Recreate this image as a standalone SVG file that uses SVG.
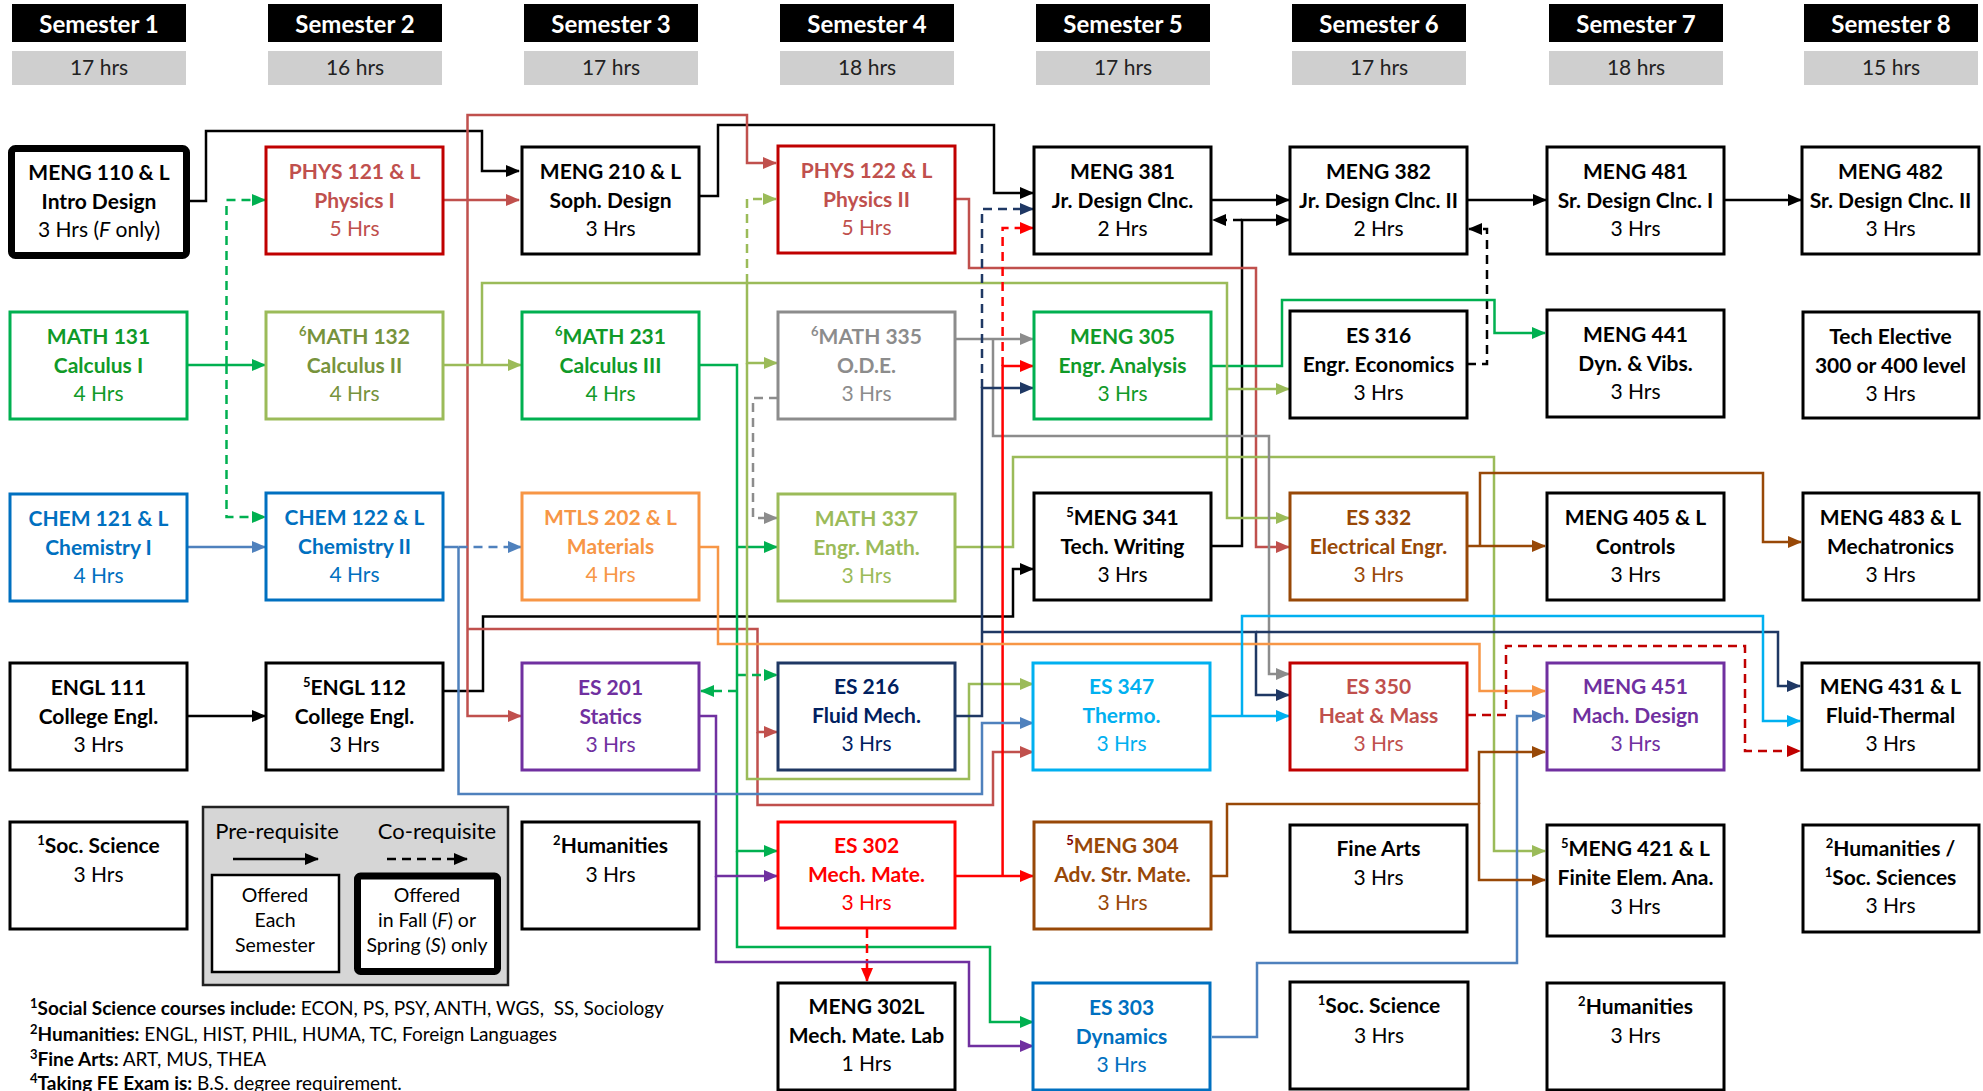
<svg xmlns="http://www.w3.org/2000/svg" width="1983" height="1091" viewBox="0 0 1983 1091">
<style>
text{font-family:Lato,"Open Sans","Liberation Sans",sans-serif;font-size:21px;text-anchor:middle}
.b{font-weight:700}
.hd{fill:#fff;font-weight:700;font-size:24px}
.hr{fill:#222;font-size:21px}
.box{fill:#fff;stroke-width:3}
.c{fill:none;stroke-width:2.5}
.d{stroke-dasharray:9 6}
.fn{text-anchor:start;font-size:19px}
.sup{font-size:13px}
</style>
<defs>
<marker id="mk" markerUnits="userSpaceOnUse" markerWidth="14" markerHeight="12" refX="13" refY="6" orient="auto"><path d="M0,0L14,6L0,12z" fill="#000"/></marker>
<marker id="mr1" markerUnits="userSpaceOnUse" markerWidth="14" markerHeight="12" refX="13" refY="6" orient="auto"><path d="M0,0L14,6L0,12z" fill="#C0504D"/></marker>
<marker id="mg" markerUnits="userSpaceOnUse" markerWidth="14" markerHeight="12" refX="13" refY="6" orient="auto"><path d="M0,0L14,6L0,12z" fill="#00B050"/></marker>
<marker id="mo" markerUnits="userSpaceOnUse" markerWidth="14" markerHeight="12" refX="13" refY="6" orient="auto"><path d="M0,0L14,6L0,12z" fill="#9BBB59"/></marker>
<marker id="mgy" markerUnits="userSpaceOnUse" markerWidth="14" markerHeight="12" refX="13" refY="6" orient="auto"><path d="M0,0L14,6L0,12z" fill="#8C8C8C"/></marker>
<marker id="mn" markerUnits="userSpaceOnUse" markerWidth="14" markerHeight="12" refX="13" refY="6" orient="auto"><path d="M0,0L14,6L0,12z" fill="#1F3864"/></marker>
<marker id="mrr" markerUnits="userSpaceOnUse" markerWidth="14" markerHeight="12" refX="13" refY="6" orient="auto"><path d="M0,0L14,6L0,12z" fill="#FF0000"/></marker>
<marker id="mp" markerUnits="userSpaceOnUse" markerWidth="14" markerHeight="12" refX="13" refY="6" orient="auto"><path d="M0,0L14,6L0,12z" fill="#7030A0"/></marker>
<marker id="mbl" markerUnits="userSpaceOnUse" markerWidth="14" markerHeight="12" refX="13" refY="6" orient="auto"><path d="M0,0L14,6L0,12z" fill="#4F81BD"/></marker>
<marker id="mor" markerUnits="userSpaceOnUse" markerWidth="14" markerHeight="12" refX="13" refY="6" orient="auto"><path d="M0,0L14,6L0,12z" fill="#F79646"/></marker>
<marker id="mbr" markerUnits="userSpaceOnUse" markerWidth="14" markerHeight="12" refX="13" refY="6" orient="auto"><path d="M0,0L14,6L0,12z" fill="#984807"/></marker>
<marker id="mcy" markerUnits="userSpaceOnUse" markerWidth="14" markerHeight="12" refX="13" refY="6" orient="auto"><path d="M0,0L14,6L0,12z" fill="#00B0F0"/></marker>
<marker id="mdr" markerUnits="userSpaceOnUse" markerWidth="14" markerHeight="12" refX="13" refY="6" orient="auto"><path d="M0,0L14,6L0,12z" fill="#C00000"/></marker>
</defs>
<rect width="1983" height="1091" fill="#fff"/>

<g id="headers">
<rect x="12" y="4" width="174" height="38" fill="#000"/><rect x="12" y="51" width="174" height="34" fill="#CFCFCF"/>
<text class="hd" x="99" y="33">Semester 1</text><text class="hr" x="99" y="75">17 hrs</text>
<rect x="268" y="4" width="174" height="38" fill="#000"/><rect x="268" y="51" width="174" height="34" fill="#CFCFCF"/>
<text class="hd" x="355" y="33">Semester 2</text><text class="hr" x="355" y="75">16 hrs</text>
<rect x="524" y="4" width="174" height="38" fill="#000"/><rect x="524" y="51" width="174" height="34" fill="#CFCFCF"/>
<text class="hd" x="611" y="33">Semester 3</text><text class="hr" x="611" y="75">17 hrs</text>
<rect x="780" y="4" width="174" height="38" fill="#000"/><rect x="780" y="51" width="174" height="34" fill="#CFCFCF"/>
<text class="hd" x="867" y="33">Semester 4</text><text class="hr" x="867" y="75">18 hrs</text>
<rect x="1036" y="4" width="174" height="38" fill="#000"/><rect x="1036" y="51" width="174" height="34" fill="#CFCFCF"/>
<text class="hd" x="1123" y="33">Semester 5</text><text class="hr" x="1123" y="75">17 hrs</text>
<rect x="1292" y="4" width="174" height="38" fill="#000"/><rect x="1292" y="51" width="174" height="34" fill="#CFCFCF"/>
<text class="hd" x="1379" y="33">Semester 6</text><text class="hr" x="1379" y="75">17 hrs</text>
<rect x="1549" y="4" width="174" height="38" fill="#000"/><rect x="1549" y="51" width="174" height="34" fill="#CFCFCF"/>
<text class="hd" x="1636" y="33">Semester 7</text><text class="hr" x="1636" y="75">18 hrs</text>
<rect x="1804" y="4" width="174" height="38" fill="#000"/><rect x="1804" y="51" width="174" height="34" fill="#CFCFCF"/>
<text class="hd" x="1891" y="33">Semester 8</text><text class="hr" x="1891" y="75">15 hrs</text>
</g>

<g id="connectors">
<!-- black -->
<path class="c" stroke="#000" d="M190,201H206V131H482V171H519" marker-end="url(#mk)"/>
<path class="c" stroke="#000" d="M699,196H718V125H994V193H1033" marker-end="url(#mk)"/>
<path class="c" stroke="#000" d="M1211,200H1289" marker-end="url(#mk)"/>
<path class="c" stroke="#000" d="M1467,200H1546" marker-end="url(#mk)"/>
<path class="c" stroke="#000" d="M1724,200H1801" marker-end="url(#mk)"/>
<path class="c" stroke="#000" d="M187,716H265" marker-end="url(#mk)"/>
<path class="c" stroke="#000" d="M443,691H483V616.5H1013V569H1033" marker-end="url(#mk)"/>
<path class="c" stroke="#000" d="M1211,546H1242V220H1289" marker-end="url(#mk)"/>
<path class="c d" stroke="#000" d="M1242,220H1213" marker-end="url(#mk)"/>
<path class="c d" stroke="#000" d="M1467,364H1487V229H1469" marker-end="url(#mk)"/>
<!-- PHYS red -->
<path class="c" stroke="#C0504D" d="M443,200H519" marker-end="url(#mr1)"/>
<path class="c" stroke="#C0504D" d="M467.5,200V115H747V163H776" marker-end="url(#mr1)"/>
<path class="c" stroke="#C0504D" d="M467.5,200V716H521" marker-end="url(#mr1)"/>
<path class="c" stroke="#C0504D" d="M467.5,629H757.5V732H777" marker-end="url(#mr1)"/>
<path class="c" stroke="#C0504D" d="M757.5,732V805H993V752H1033" marker-end="url(#mr1)"/>
<path class="c" stroke="#C0504D" d="M954,199H969V268H1256V547H1289" marker-end="url(#mr1)"/>
<!-- green -->
<path class="c" stroke="#00B050" d="M187,365H265" marker-end="url(#mg)"/>
<path class="c d" stroke="#00B050" d="M226.5,365V200H265" marker-end="url(#mg)"/>
<path class="c d" stroke="#00B050" d="M226.5,365V517H265" marker-end="url(#mg)"/>
<path class="c" stroke="#00B050" d="M699,365H737V851H777" marker-end="url(#mg)"/>
<path class="c" stroke="#00B050" d="M737,547H777" marker-end="url(#mg)"/>
<path class="c" stroke="#00B050" d="M737,851V947H990V1022H1033" marker-end="url(#mg)"/>
<path class="c d" stroke="#00B050" d="M737,675H777" marker-end="url(#mg)"/>
<path class="c d" stroke="#00B050" d="M737,691H701" marker-end="url(#mg)"/>
<path class="c" stroke="#00B050" d="M1212,366H1282V300H1494.5V333H1545" marker-end="url(#mg)"/>
<!-- olive -->
<path class="c" stroke="#9BBB59" d="M443,365H521" marker-end="url(#mo)"/>
<path class="c" stroke="#9BBB59" d="M482,365V283H1227V518H1289" marker-end="url(#mo)"/>
<path class="c" stroke="#9BBB59" d="M1227,389H1289" marker-end="url(#mo)"/>
<path class="c" stroke="#9BBB59" d="M747,283V363H777" marker-end="url(#mo)"/>
<path class="c" stroke="#9BBB59" d="M747,363V779H969V684H1033" marker-end="url(#mo)"/>
<path class="c d" stroke="#9BBB59" d="M747,283V199H776" marker-end="url(#mo)"/>
<path class="c" stroke="#9BBB59" d="M955,547H1013V457H1494V851H1545" marker-end="url(#mo)"/>
<!-- gray -->
<path class="c" stroke="#8C8C8C" d="M956,339H1033" marker-end="url(#mgy)"/>
<path class="c" stroke="#8C8C8C" d="M993,339V436H1269V674H1289" marker-end="url(#mgy)"/>
<path class="c d" stroke="#8C8C8C" d="M778,398H753V518H777" marker-end="url(#mgy)"/>
<!-- navy -->
<path class="c" stroke="#1F3864" d="M955,716H982V388H1033" marker-end="url(#mn)"/>
<path class="c d" stroke="#1F3864" d="M982,388V209H1033" marker-end="url(#mn)"/>
<path class="c" stroke="#1F3864" d="M982,632H1256V695H1289" marker-end="url(#mn)"/>
<path class="c" stroke="#1F3864" d="M1256,632H1778V686H1800" marker-end="url(#mn)"/>
<!-- bright red -->
<path class="c" stroke="#FF0000" d="M956,876H1033" marker-end="url(#mrr)"/>
<path class="c" stroke="#FF0000" d="M1002.6,876V366H1033" marker-end="url(#mrr)"/>
<path class="c d" stroke="#FF0000" d="M1002.6,366V228H1033" marker-end="url(#mrr)"/>
<path class="c d" stroke="#FF0000" d="M867,929V981" marker-end="url(#mrr)"/>
<!-- purple -->
<path class="c" stroke="#7030A0" d="M699,716H716V876H777" marker-end="url(#mp)"/>
<path class="c" stroke="#7030A0" d="M716,876V962H969V1046H1033" marker-end="url(#mp)"/>
<!-- blue -->
<path class="c" stroke="#4F81BD" d="M187,547H265" marker-end="url(#mbl)"/>
<path class="c" stroke="#4F81BD" d="M443,547H458.5"/>
<path class="c d" stroke="#4F81BD" d="M458.5,547H521" marker-end="url(#mbl)"/>
<path class="c" stroke="#4F81BD" d="M458.5,547V794H982V723H1033" marker-end="url(#mbl)"/>
<path class="c" stroke="#4F81BD" d="M1212,1037H1257V963H1517V716H1545" marker-end="url(#mbl)"/>
<!-- orange -->
<path class="c" stroke="#F79646" d="M699,547H718V644H1479.5V691H1545" marker-end="url(#mor)"/>
<!-- brown -->
<path class="c" stroke="#984807" d="M1467,546H1545" marker-end="url(#mbr)"/>
<path class="c" stroke="#984807" d="M1480,546V473H1763V542H1801" marker-end="url(#mbr)"/>
<path class="c" stroke="#984807" d="M1212,876H1227V804H1479V880H1545" marker-end="url(#mbr)"/>
<path class="c" stroke="#984807" d="M1479,804V752H1545" marker-end="url(#mbr)"/>
<!-- cyan -->
<path class="c" stroke="#00B0F0" d="M1211,716H1289" marker-end="url(#mcy)"/>
<path class="c" stroke="#00B0F0" d="M1242,716V616H1763V721H1800" marker-end="url(#mcy)"/>
<!-- dark red dashed -->
<path class="c d" stroke="#C00000" d="M1467,715H1506V646H1745V751H1800" marker-end="url(#mdr)"/>
</g>

<!-- Row 1 -->
<g id="meng110"><rect x="11.5" y="148.5" width="175" height="107" rx="4" fill="#fff" stroke="#000" stroke-width="7"/>
<text class="b" x="99" y="180">MENG 110 &amp; L</text><text class="b" x="99" y="209">Intro Design</text><text x="99" y="237">3 Hrs (<tspan font-style="italic">F</tspan> only)</text></g>
<g id="phys121" fill="#C0504D"><rect class="box" x="266" y="147" width="177" height="107" stroke="#C00000"/>
<text class="b" x="354.5" y="179">PHYS 121 &amp; L</text><text class="b" x="354.5" y="208">Physics I</text><text x="354.5" y="236">5 Hrs</text></g>
<g id="meng210"><rect class="box" x="522" y="147" width="177" height="107" stroke="#000"/>
<text class="b" x="610.5" y="179">MENG 210 &amp; L</text><text class="b" x="610.5" y="208">Soph. Design</text><text x="610.5" y="236">3 Hrs</text></g>
<g id="phys122" fill="#C0504D"><rect class="box" x="778" y="146" width="177" height="107" stroke="#C00000"/>
<text class="b" x="866.5" y="178">PHYS 122 &amp; L</text><text class="b" x="866.5" y="207">Physics II</text><text x="866.5" y="235">5 Hrs</text></g>
<g id="meng381"><rect class="box" x="1034" y="147" width="177" height="107" stroke="#000"/>
<text class="b" x="1122.5" y="179">MENG 381</text><text class="b" x="1122.5" y="208">Jr. Design Clnc.</text><text x="1122.5" y="236">2 Hrs</text></g>
<g id="meng382"><rect class="box" x="1290" y="147" width="177" height="107" stroke="#000"/>
<text class="b" x="1378.5" y="179">MENG 382</text><text class="b" x="1378.5" y="208">Jr. Design Clnc. II</text><text x="1378.5" y="236">2 Hrs</text></g>
<g id="meng481"><rect class="box" x="1547" y="147" width="177" height="107" stroke="#000"/>
<text class="b" x="1635.5" y="179">MENG 481</text><text class="b" x="1635.5" y="208">Sr. Design Clnc. I</text><text x="1635.5" y="236">3 Hrs</text></g>
<g id="meng482"><rect class="box" x="1802" y="147" width="177" height="107" stroke="#000"/>
<text class="b" x="1890.5" y="179">MENG 482</text><text class="b" x="1890.5" y="208">Sr. Design Clnc. II</text><text x="1890.5" y="236">3 Hrs</text></g>

<!-- Row 2 -->
<g id="math131" fill="#109A28"><rect class="box" x="10" y="312" width="177" height="107" stroke="#00B050"/>
<text class="b" x="98.5" y="344">MATH 131</text><text class="b" x="98.5" y="373">Calculus I</text><text x="98.5" y="401">4 Hrs</text></g>
<g id="math132" fill="#77933C"><rect class="box" x="266" y="312" width="177" height="107" stroke="#9BBB59"/>
<text class="b" x="354.5" y="344"><tspan class="sup" dy="-8">6</tspan><tspan dy="8">MATH 132</tspan></text><text class="b" x="354.5" y="373">Calculus II</text><text x="354.5" y="401">4 Hrs</text></g>
<g id="math231" fill="#109A28"><rect class="box" x="522" y="312" width="177" height="107" stroke="#00B050"/>
<text class="b" x="610.5" y="344"><tspan class="sup" dy="-8">6</tspan><tspan dy="8">MATH 231</tspan></text><text class="b" x="610.5" y="373">Calculus III</text><text x="610.5" y="401">4 Hrs</text></g>
<g id="math335" fill="#8C8C8C"><rect class="box" x="778" y="312" width="177" height="107" stroke="#8C8C8C"/>
<text class="b" x="866.5" y="344"><tspan class="sup" dy="-8">6</tspan><tspan dy="8">MATH 335</tspan></text><text class="b" x="866.5" y="373">O.D.E.</text><text x="866.5" y="401">3 Hrs</text></g>
<g id="meng305" fill="#109A28"><rect class="box" x="1034" y="312" width="177" height="107" stroke="#00B050"/>
<text class="b" x="1122.5" y="344">MENG 305</text><text class="b" x="1122.5" y="373">Engr. Analysis</text><text x="1122.5" y="401">3 Hrs</text></g>
<g id="es316"><rect class="box" x="1290" y="311" width="177" height="107" stroke="#000"/>
<text class="b" x="1378.5" y="343">ES 316</text><text class="b" x="1378.5" y="372">Engr. Economics</text><text x="1378.5" y="400">3 Hrs</text></g>
<g id="meng441"><rect class="box" x="1547" y="310" width="177" height="107" stroke="#000"/>
<text class="b" x="1635.5" y="342">MENG 441</text><text class="b" x="1635.5" y="371">Dyn. &amp; Vibs.</text><text x="1635.5" y="399">3 Hrs</text></g>
<g id="techelective"><rect class="box" x="1803" y="312" width="176" height="106" stroke="#000"/>
<text class="b" x="1890.5" y="344">Tech Elective</text><text class="b" x="1890.5" y="373">300 or 400 level</text><text x="1890.5" y="401">3 Hrs</text></g>

<!-- Row 3 -->
<g id="chem121" fill="#0070C0"><rect class="box" x="10" y="494" width="177" height="107" stroke="#0070C0"/>
<text class="b" x="98.5" y="526">CHEM 121 &amp; L</text><text class="b" x="98.5" y="555">Chemistry I</text><text x="98.5" y="583">4 Hrs</text></g>
<g id="chem122" fill="#0070C0"><rect class="box" x="266" y="493" width="177" height="107" stroke="#0070C0"/>
<text class="b" x="354.5" y="525">CHEM 122 &amp; L</text><text class="b" x="354.5" y="554">Chemistry II</text><text x="354.5" y="582">4 Hrs</text></g>
<g id="mtls202" fill="#F79646"><rect class="box" x="522" y="493" width="177" height="107" stroke="#F79646"/>
<text class="b" x="610.5" y="525">MTLS 202 &amp; L</text><text class="b" x="610.5" y="554">Materials</text><text x="610.5" y="582">4 Hrs</text></g>
<g id="math337" fill="#9BBB59"><rect class="box" x="778" y="494" width="177" height="107" stroke="#9BBB59"/>
<text class="b" x="866.5" y="526">MATH 337</text><text class="b" x="866.5" y="555">Engr. Math.</text><text x="866.5" y="583">3 Hrs</text></g>
<g id="meng341"><rect class="box" x="1034" y="493" width="177" height="107" stroke="#000"/>
<text class="b" x="1122.5" y="525"><tspan class="sup" dy="-8">5</tspan><tspan dy="8">MENG 341</tspan></text><text class="b" x="1122.5" y="554">Tech. Writing</text><text x="1122.5" y="582">3 Hrs</text></g>
<g id="es332" fill="#984807"><rect class="box" x="1290" y="493" width="177" height="107" stroke="#984807"/>
<text class="b" x="1378.5" y="525">ES 332</text><text class="b" x="1378.5" y="554">Electrical Engr.</text><text x="1378.5" y="582">3 Hrs</text></g>
<g id="meng405"><rect class="box" x="1547" y="493" width="177" height="107" stroke="#000"/>
<text class="b" x="1635.5" y="525">MENG 405 &amp; L</text><text class="b" x="1635.5" y="554">Controls</text><text x="1635.5" y="582">3 Hrs</text></g>
<g id="meng483"><rect class="box" x="1803" y="493" width="176" height="107" stroke="#000"/>
<text class="b" x="1890.5" y="525">MENG 483 &amp; L</text><text class="b" x="1890.5" y="554">Mechatronics</text><text x="1890.5" y="582">3 Hrs</text></g>

<!-- Row 4 -->
<g id="engl111"><rect class="box" x="10" y="663" width="177" height="107" stroke="#000"/>
<text class="b" x="98.5" y="695">ENGL 111</text><text class="b" x="98.5" y="724">College Engl.</text><text x="98.5" y="752">3 Hrs</text></g>
<g id="engl112"><rect class="box" x="266" y="663" width="177" height="107" stroke="#000"/>
<text class="b" x="354.5" y="695"><tspan class="sup" dy="-8">5</tspan><tspan dy="8">ENGL 112</tspan></text><text class="b" x="354.5" y="724">College Engl.</text><text x="354.5" y="752">3 Hrs</text></g>
<g id="es201" fill="#7030A0"><rect class="box" x="522" y="663" width="177" height="107" stroke="#7030A0"/>
<text class="b" x="610.5" y="695">ES 201</text><text class="b" x="610.5" y="724">Statics</text><text x="610.5" y="752">3 Hrs</text></g>
<g id="es216" fill="#002060"><rect class="box" x="778" y="663" width="177" height="107" stroke="#1F3864"/>
<text class="b" x="866.5" y="694">ES 216</text><text class="b" x="866.5" y="723">Fluid Mech.</text><text x="866.5" y="751">3 Hrs</text></g>
<g id="es347" fill="#00B0F0"><rect class="box" x="1033" y="663" width="177" height="107" stroke="#00B0F0"/>
<text class="b" x="1121.5" y="694">ES 347</text><text class="b" x="1121.5" y="723">Thermo.</text><text x="1121.5" y="751">3 Hrs</text></g>
<g id="es350" fill="#C0504D"><rect class="box" x="1290" y="663" width="177" height="107" stroke="#C00000"/>
<text class="b" x="1378.5" y="694">ES 350</text><text class="b" x="1378.5" y="723">Heat &amp; Mass</text><text x="1378.5" y="751">3 Hrs</text></g>
<g id="meng451" fill="#7030A0"><rect class="box" x="1547" y="663" width="177" height="107" stroke="#7030A0"/>
<text class="b" x="1635.5" y="694">MENG 451</text><text class="b" x="1635.5" y="723">Mach. Design</text><text x="1635.5" y="751">3 Hrs</text></g>
<g id="meng431"><rect class="box" x="1802" y="663" width="177" height="107" stroke="#000"/>
<text class="b" x="1890.5" y="694">MENG 431 &amp; L</text><text class="b" x="1890.5" y="723">Fluid-Thermal</text><text x="1890.5" y="751">3 Hrs</text></g>

<!-- Row 5 -->
<g id="socsci1"><rect class="box" x="10" y="822" width="177" height="107" stroke="#000"/>
<text class="b" x="98.5" y="853"><tspan class="sup" dy="-8">1</tspan><tspan dy="8">Soc. Science</tspan></text><text x="98.5" y="882">3 Hrs</text></g>
<g id="legend">
<rect x="203" y="807" width="305" height="178" fill="#D6D6D6" stroke="#222" stroke-width="2.5"/>
<text x="277" y="839" style="font-size:22px">Pre-requisite</text>
<text x="437" y="839" style="font-size:22px">Co-requisite</text>
<path class="c" stroke="#000" d="M233,859H318" marker-end="url(#mk)"/>
<path class="c d" stroke="#000" d="M387,859H467" marker-end="url(#mk)"/>
<rect x="212" y="875" width="127" height="97" fill="#fff" stroke="#000" stroke-width="2.5"/>
<text x="275" y="902" style="font-size:19.5px">Offered</text><text x="275" y="927" style="font-size:19.5px">Each</text><text x="275" y="952" style="font-size:19.5px">Semester</text>
<rect x="357.5" y="876" width="140" height="95.5" rx="3" fill="#fff" stroke="#000" stroke-width="7"/>
<text x="427" y="902" style="font-size:19.5px">Offered</text><text x="427" y="927" style="font-size:19.5px">in Fall (<tspan font-style="italic">F</tspan>) or</text><text x="427" y="952" style="font-size:19.5px">Spring (<tspan font-style="italic">S</tspan>) only</text>
</g>
<g id="humanities1"><rect class="box" x="522" y="822" width="177" height="107" stroke="#000"/>
<text class="b" x="610.5" y="853"><tspan class="sup" dy="-8">2</tspan><tspan dy="8">Humanities</tspan></text><text x="610.5" y="882">3 Hrs</text></g>
<g id="es302" fill="#FF0000"><rect class="box" x="778" y="822" width="177" height="106" stroke="#FF0000"/>
<text class="b" x="866.5" y="853">ES 302</text><text class="b" x="866.5" y="882">Mech. Mate.</text><text x="866.5" y="910">3 Hrs</text></g>
<g id="meng304" fill="#984807"><rect class="box" x="1034" y="822" width="177" height="107" stroke="#984807"/>
<text class="b" x="1122.5" y="853"><tspan class="sup" dy="-8" fill="#800000">5</tspan><tspan dy="8">MENG 304</tspan></text><text class="b" x="1122.5" y="882">Adv. Str. Mate.</text><text x="1122.5" y="910">3 Hrs</text></g>
<g id="finearts"><rect class="box" x="1290" y="825" width="177" height="107" stroke="#000"/>
<text class="b" x="1378.5" y="856">Fine Arts</text><text x="1378.5" y="885">3 Hrs</text></g>
<g id="meng421"><rect class="box" x="1547" y="825" width="177" height="111" stroke="#000"/>
<text class="b" x="1635.5" y="856"><tspan class="sup" dy="-8">5</tspan><tspan dy="8">MENG 421 &amp; L</tspan></text><text class="b" x="1635.5" y="885">Finite Elem. Ana.</text><text x="1635.5" y="914">3 Hrs</text></g>
<g id="humsoc"><rect class="box" x="1803" y="825" width="176" height="107" stroke="#000"/>
<text class="b" x="1890.5" y="856"><tspan class="sup" dy="-8">2</tspan><tspan dy="8">Humanities /</tspan></text><text class="b" x="1890.5" y="885"><tspan class="sup" dy="-8">1</tspan><tspan dy="8">Soc. Sciences</tspan></text><text x="1890.5" y="913">3 Hrs</text></g>

<!-- Row 6 -->
<g id="meng302l"><rect class="box" x="778" y="983" width="177" height="107" stroke="#000"/>
<text class="b" x="866.5" y="1014">MENG 302L</text><text class="b" x="866.5" y="1043">Mech. Mate. Lab</text><text x="866.5" y="1071">1 Hrs</text></g>
<g id="es303" fill="#0070C0"><rect class="box" x="1033" y="983" width="177" height="107" stroke="#0070C0"/>
<text class="b" x="1121.5" y="1015">ES 303</text><text class="b" x="1121.5" y="1044">Dynamics</text><text x="1121.5" y="1072">3 Hrs</text></g>
<g id="socsci2"><rect class="box" x="1290" y="982" width="178" height="107" stroke="#000"/>
<text class="b" x="1379" y="1013"><tspan class="sup" dy="-8">1</tspan><tspan dy="8">Soc. Science</tspan></text><text x="1379" y="1043">3 Hrs</text></g>
<g id="humanities2"><rect class="box" x="1547" y="983" width="177" height="107" stroke="#000"/>
<text class="b" x="1635.5" y="1014"><tspan class="sup" dy="-8">2</tspan><tspan dy="8">Humanities</tspan></text><text x="1635.5" y="1043">3 Hrs</text></g>

<g id="footnotes">
<text class="fn" x="30" y="1015"><tspan class="sup b" dy="-7">1</tspan><tspan class="b" dy="7">Social Science courses include:</tspan> ECON, PS, PSY, ANTH, WGS, &#160;SS, Sociology</text>
<text class="fn" x="30" y="1041"><tspan class="sup b" dy="-7">2</tspan><tspan class="b" dy="7">Humanities:</tspan> ENGL, HIST, PHIL, HUMA, TC, Foreign Languages</text>
<text class="fn" x="30" y="1066"><tspan class="sup b" dy="-7">3</tspan><tspan class="b" dy="7">Fine Arts:</tspan> ART, MUS, THEA</text>
<text class="fn" x="30" y="1090"><tspan class="sup b" dy="-7">4</tspan><tspan class="b" dy="7">Taking FE Exam is:</tspan> B.S. degree requirement.</text>
</g>
</svg>
